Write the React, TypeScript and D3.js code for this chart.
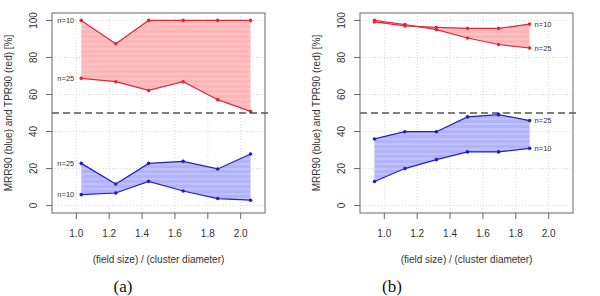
import React, { useEffect, useRef } from "react";
import * as d3 from "d3";

// panel (a)
const xA = [1.03, 1.24, 1.44, 1.65, 1.86, 2.06];
const tprA10 = [100, 87.4, 100, 100, 100, 100];
const tprA25 = [68.7, 66.9, 62.2, 66.9, 57.2, 50.9];
const mrrA25 = [22.8, 11.7, 22.8, 23.9, 19.8, 27.9];
const mrrA10 = [5.9, 6.8, 13.1, 7.9, 3.8, 2.9];

// panel (b)
const xB = [0.94, 1.125, 1.317, 1.506, 1.695, 1.884];
const tprB10 = [99.2, 97.0, 96.2, 95.7, 95.7, 98.0];
const tprB25 = [100, 97.8, 95.0, 90.5, 87.0, 85.1];
const mrrB25 = [36.0, 39.9, 39.9, 47.9, 49.1, 45.9];
const mrrB10 = [13.0, 20.0, 24.8, 29.0, 29.0, 30.9];

const xTicks = [1.0, 1.2, 1.4, 1.6, 1.8, 2.0];
const yTicks = [0, 20, 40, 60, 80, 100];

const W = 600;
const H = 296;
const sans = "'Liberation Sans', Arial, sans-serif";

function drawPanel(svg, opts) {
	const { left, tag, xs, red10, red25, blue25, blue10, labelSide } = opts;
	const top = 13;
	const bottom = 213;
	const right = left + 213;

	const x = d3.scaleLinear().domain([0.852, 2.148]).range([left, right]);
	const y = d3.scaleLinear().domain([-4, 104]).range([bottom, top]);

	const g = svg.append("g");

	// grid
	g.selectAll(".gx")
		.data(xTicks)
		.enter()
		.append("line")
		.attr("x1", d => x(d))
		.attr("x2", d => x(d))
		.attr("y1", top)
		.attr("y2", bottom)
		.attr("stroke", "#d8d8d8")
		.attr("stroke-dasharray", "1,2");
	g.selectAll(".gy")
		.data(yTicks)
		.enter()
		.append("line")
		.attr("x1", left)
		.attr("x2", right)
		.attr("y1", d => y(d))
		.attr("y2", d => y(d))
		.attr("stroke", "#d8d8d8")
		.attr("stroke-dasharray", "1,2");

	// bands
	const band = (a, b, fill) => {
		const rows = xs.map((v, i) => ({ x: v, a: a[i], b: b[i] }));
		g.append("path")
			.datum(rows)
			.attr("fill", fill)
			.attr(
				"d",
				d3
					.area()
					.x(d => x(d.x))
					.y0(d => y(d.a))
					.y1(d => y(d.b))
			);
	};
	band(red10, red25, "url(#stripeRed)");
	band(blue25, blue10, "url(#stripeBlue)");

	// lines + points
	const series = (vals, color) => {
		const pts = xs.map((v, i) => [x(v), y(vals[i])]);
		g.append("path")
			.attr("d", d3.line()(pts))
			.attr("fill", "none")
			.attr("stroke", color)
			.attr("stroke-width", 1.2);
		g.selectAll(null)
			.data(pts)
			.enter()
			.append("circle")
			.attr("cx", d => d[0])
			.attr("cy", d => d[1])
			.attr("r", 1.8)
			.attr("fill", color);
	};
	series(red10, "#e0283a");
	series(red25, "#e0283a");
	series(blue25, "#2020c8");
	series(blue10, "#2020c8");

	// series labels
	const lab = (vals, text) => {
		const i = labelSide === "left" ? 0 : xs.length - 1;
		g.append("text")
			.attr("x", labelSide === "left" ? x(xs[i]) - 7 : x(xs[i]) + 5)
			.attr("y", y(vals[i]) + 2.5)
			.attr("text-anchor", labelSide === "left" ? "end" : "start")
			.attr("font-family", sans)
			.attr("font-size", 7.5)
			.attr("fill", "#333")
			.text(text);
	};
	lab(red10, "n=10");
	lab(red25, "n=25");
	lab(blue25, "n=25");
	lab(blue10, "n=10");

	// 50% line
	g.append("line")
		.attr("x1", left)
		.attr("x2", right + 4)
		.attr("y1", y(50))
		.attr("y2", y(50))
		.attr("stroke", "#000")
		.attr("stroke-width", 1.2)
		.attr("stroke-dasharray", "7,4");

	// box
	g.append("rect")
		.attr("x", left)
		.attr("y", top)
		.attr("width", right - left)
		.attr("height", bottom - top)
		.attr("fill", "none")
		.attr("stroke", "#666")
		.attr("stroke-width", 1);

	// x axis
	const xAxis = g.append("g");
	xTicks.forEach(t => {
		xAxis
			.append("line")
			.attr("x1", x(t))
			.attr("x2", x(t))
			.attr("y1", bottom)
			.attr("y2", bottom + 6)
			.attr("stroke", "#666");
		xAxis
			.append("text")
			.attr("x", x(t))
			.attr("y", bottom + 24)
			.attr("text-anchor", "middle")
			.attr("font-family", sans)
			.attr("font-size", 10)
			.attr("fill", "#333")
			.text(t.toFixed(1));
	});

	// y axis
	yTicks.forEach(t => {
		g.append("line")
			.attr("x1", left - 6)
			.attr("x2", left)
			.attr("y1", y(t))
			.attr("y2", y(t))
			.attr("stroke", "#666");
		g.append("text")
			.attr("transform", `translate(${left - 15},${y(t)}) rotate(-90)`)
			.attr("text-anchor", "middle")
			.attr("font-family", sans)
			.attr("font-size", 10)
			.attr("fill", "#333")
			.text(t);
	});

	// axis titles
	g.append("text")
		.attr("x", (left + right) / 2)
		.attr("y", 263)
		.attr("text-anchor", "middle")
		.attr("font-family", sans)
		.attr("font-size", 10)
		.attr("fill", "#333")
		.text("(field size) / (cluster diameter)");
	g.append("text")
		.attr("transform", `translate(${left - 40},${(top + bottom) / 2}) rotate(-90)`)
		.attr("text-anchor", "middle")
		.attr("font-family", sans)
		.attr("font-size", 10)
		.attr("fill", "#333")
		.text("MRR90 (blue) and TPR90 (red) [%]");

	// panel tag
	g.append("text")
		.attr("x", tag === "(a)" ? 123 : 392)
		.attr("y", 292)
		.attr("text-anchor", "middle")
		.attr("font-family", "'Liberation Serif', 'Times New Roman', serif")
		.attr("font-size", 17)
		.attr("fill", "#111")
		.text(tag);
}

export default function App() {
	const ref = useRef(null);

	useEffect(() => {
		const svg = d3.select(ref.current);
		svg.selectAll("*").remove();

		svg.append("rect").attr("width", W).attr("height", H).attr("fill", "#fff");

		const defs = svg.append("defs");
		const stripes = (id, dark, light) => {
			const p = defs
				.append("pattern")
				.attr("id", id)
				.attr("patternUnits", "userSpaceOnUse")
				.attr("width", 8)
				.attr("height", 5);
			p.append("rect").attr("width", 8).attr("height", 5).attr("fill", dark);
			p.append("rect").attr("y", 3).attr("width", 8).attr("height", 2).attr("fill", light);
		};
		stripes("stripeRed", "#ffb4b6", "#ffc2c4");
		stripes("stripeBlue", "#b2b2fa", "#c0c0fb");

		drawPanel(svg, {
			left: 52,
			tag: "(a)",
			xs: xA,
			red10: tprA10,
			red25: tprA25,
			blue25: mrrA25,
			blue10: mrrA10,
			labelSide: "left",
		});
		drawPanel(svg, {
			left: 360,
			tag: "(b)",
			xs: xB,
			red10: tprB10,
			red25: tprB25,
			blue25: mrrB25,
			blue10: mrrB10,
			labelSide: "right",
		});
	}, []);

	return (
		<svg
			ref={ref}
			width={W}
			height={H}
			style={{ position: "absolute", left: 0, top: 0 }}
		/>
	);
}
